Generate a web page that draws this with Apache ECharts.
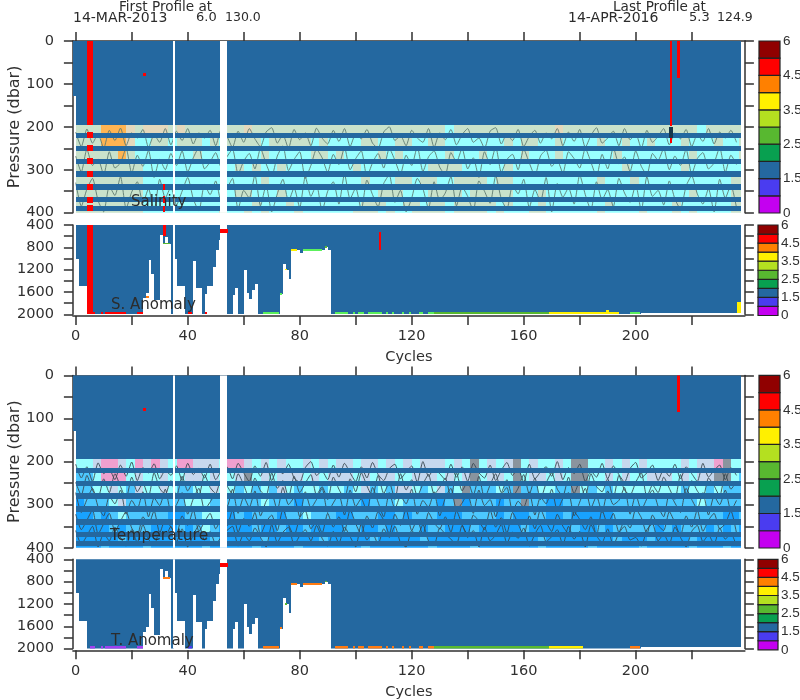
<!DOCTYPE html>
<html><head><meta charset="utf-8">
<style>html,body{margin:0;padding:0;background:#fff}#c{width:800px;height:700px}</style>
<script src="https://cdn.jsdelivr.net/npm/echarts@6/dist/echarts.min.js"></script>
</head><body><div id="c"></div>
<script>
// ---------- data ----------
const xTickValues=[0,20,40,60,80,100,120,140,160,180,200,220];
const xLabelValues=[0,40,80,120,160,200];
const legendLabels=['0','1.5','2.5','3.5','4.5','6'];
const legendColours=['#c400f0','#4a3cf0','#2468a0','#08a050','#58b830','#b4e020','#fff000','#ff8000','#ff0000','#900000'];
const rowEdges=[195,220,250,280,310,340,370,390,400];
const badLevels=[220,250,280,310,340,370,390];
const dataGaps=[[34.6,35.3],[51.7,54.05]];
const lastCycleEdge=237.5;
const blockCycles=3;

const salinityRows=[
 "gggoootgtt tgtggggggg tggggggggg gggggggggg ggggcggggg gggggggtgg gggggggggg ggggcggggg",
 "gggoootccg gcgggcgcgg ggcgggggcg ccccggccgg ccggcccccc cgcggccgcc ccgccgccgc ccgcccgccg",
 "gggggogccc ccccgccccc ccgcccccgg cgccccgcgc ccccgcccgc cccgcccgcc ccccgccccc cccgcccccg",
 "ggggggggcc cccccccccg cgccgccccc cccgcccccc ccggggcccc cgcccccccc cccccgcccc ccgccccccc",
 "ggggggggcc cccccccccc ccgccccccc ccccgcccgg cggccggggc ggcccccccc ccgcccgccc ccccccccgg",
 "ggggggggcc cccccccccg gcccgccccc ccccccgggc ccggggcggg ggcccgcccc cccccccccc cccgccccgg",
 "ggggggggcc cccccccccc cgcccgcccc ccccgggccg gcggcggggg cgcccgcccc cccgcccccc cgccccccgg",
 "ggggggggcc cccccccgcc gcgcccgccc cccgggcgcc ggggcggggc gcccggcccc ccgccccgcc cgcgccccgg"
];
const temperatureRows=[
 "cclpplcplp lcpplllcpp lclclcclcl cllcllclcl clllclcdcl cldclcclcd dcclclclcc cclcllpdcc",
 "sscpppclcc lccllclccl dclclllclc lllclcllcc lllclcldcl lcdcllclcd dcclclccll lclcllddcs",
 "sscclcslcc lcsscclccs cscslcsccs ccsclscsll csclscdsss csdssccssd cscscccccc ccsccscsss",
 "bsssclssss ssscccssss sscsssbsss ssssbssscs sssbsdbsss bssdssbbss ssssssssss sssscsssss",
 "bbsbscssss sbbsscccbs bsssbsscss sbbsssbbsb sssbbbssss bsbbssbbsb bbbbssssss sssssssbbs",
 "bbbbsbsssb bbsbscsbbb bsbbsbbsbb bbssbbsbss sbssbbbsbb bbbsbbbbbs bbsbsssssb sbsssbsbsb",
 "bbbbbsbbbb bbbbbbsbbb bbsbbbbbbs bbbbbsbbbb bsbbbbbbbb bbbbbsbbbb bbbbsbbbsb bbbsbbbbbb",
 "bbbsbbbbsb bbbbbsbbbb bsbbbbsbbb bbbbsbbbbb bbsbbbbsbb bbbbbsbbbb bsbbbbbsbb bbbsbbbsbb"
];
const contourStep=2;
const salContourA=[212,246,205,238,216,250,208,232,203,244,214,226,206,248,218,236,204,242,210,232,204,240,214,226,208,244,206,222,248,210,236,204,228,246,212,202,238,218,250,206,230,214,244,203,226,240,208,234,204,246,216,228,206,238,250,212,200,232,220,244,208,226,236,204,248,214,230,206,242,218,204,236,226,250,210,202,240,216,232,206,246,222,208,238,214,228,204,244,212,234,206,248,220,202,238,226,210,244,204,230,216,250,208,236,222,204,242,214,228,206,246,218,234,204,240,212,226,208,236];
const salContourB=[268,305,252,290,275,312,258,296,284,250,308,266,292,255,318,276,300,262,290,256,305,272,248,298,282,260,295,270,252,310,280,262,298,250,286,315,268,244,302,276,258,320,290,252,272,306,264,288,248,300,274,256,316,284,262,296,250,278,310,266,290,246,304,270,256,294,312,260,282,250,298,272,318,258,288,246,306,276,264,300,252,284,314,268,254,292,278,308,258,274,296,250,282,316,264,298,248,286,270,304,256,292,312,262,278,250,300,268,290,252,310,274,260,298,284,248,306,266,288];
const salContourC=[330,385,345,320,372,398,338,360,316,390,352,328,378,344,395,322,366,340,382,350,318,368,396,334,358,326,375,345,320,392,348,366,312,384,336,398,356,322,374,342,388,316,362,334,396,350,328,380,310,368,342,394,324,358,386,332,312,376,348,398,366,320,344,390,328,372,354,316,384,340,362,396,326,350,378,314,368,392,336,356,322,388,346,374,318,398,332,364,342,380,312,358,394,328,370,346,386,320,354,376,334,396,316,362,348,382,326,368,392,338,314,356,380,344,398,322,366,336,388];
const tempContourA=[206,238,212,246,203,228,218,242,208,234,201,244,214,226,205,240,220,232,210,244,204,230,216,238,206,242,222,212,240,204,226,246,210,234,202,244,218,228,206,238,248,214,200,232,222,242,208,236,204,226,246,212,238,202,230,244,216,206,240,224,210,248,200,234,218,228,242,206,236,212,246,204,226,238,208,244,220,202,232,216,248,206,240,224,212,234,200,242,214,228,206,246,222,236,204,240,210,230,248,216,202,238,226,208,244,218,234,206,240,212,228,246,204,236,220,208,242,214,232];
const tempContourB=[248,278,232,266,284,240,272,228,258,286,236,270,250,282,226,262,276,244,282,234,268,246,280,230,260,274,240,256,276,228,254,286,238,268,280,226,262,244,284,234,272,250,230,278,258,288,236,264,286,240,270,226,256,282,232,274,248,288,228,266,242,280,252,230,276,260,238,284,226,268,246,278,234,286,254,228,272,242,282,262,230,276,238,288,250,226,264,280,236,274,246,284,228,258,270,240,286,232,266,278,248,226,282,254,272,236,262,288,230,276,244,268,284,238,256,280,228,264,246];
const tempContourC=[272,318,288,262,305,326,280,298,266,322,290,310,270,328,284,302,264,316,300,272,322,286,262,312,294,276,290,305,264,320,282,306,268,326,292,274,314,260,300,284,328,270,308,288,262,318,296,276,324,266,304,286,316,260,294,328,272,310,280,298,264,322,290,306,270,326,284,262,312,296,274,320,266,302,288,328,278,260,316,292,306,270,324,282,298,264,314,286,272,326,294,262,308,280,318,268,300,290,260,322,276,312,286,266,304,328,274,296,318,262,288,310,272,324,280,300,266,314,290];
const tempContourD=[322,358,336,312,368,344,320,362,338,316,354,372,328,346,314,366,334,352,368,326,348,312,362,340,320,356,335,350,312,364,332,350,318,370,340,324,360,310,346,372,330,314,356,338,366,320,352,328,362,312,344,370,326,354,316,336,368,322,348,310,360,334,372,318,342,356,328,364,314,346,370,324,338,358,312,352,330,366,318,344,372,326,356,310,340,362,322,350,368,316,334,358,328,372,312,346,320,364,338,354,310,330,368,324,348,360,316,342,372,326,352,312,362,336,320,356,344,314,366];
const tempContourE=[360,392,372,350,398,366,384,352,376,396,358,388,346,380,394,362,374,350,386,356,398,370,348,382,362,392,375,360,350,396,368,384,354,376,398,346,388,364,352,394,372,358,384,348,378,396,362,390,352,374,398,344,382,366,392,356,376,350,388,398,360,372,346,384,394,354,368,380,392,348,376,360,398,352,384,370,346,390,364,378,354,396,368,348,386,374,358,394,350,380,362,398,346,372,388,356,394,366,350,382,376,396,358,344,384,368,392,352,376,398,362,348,386,370,392,354,380,366,396];
// deepest pressure per cycle as runs of [pressure, number of cycles]
const profileBottomRuns=[[1010,1],[1500,3],[2000,20],[1700,1],[1620,1],[1030,1],[1270,1],[1750,2],[580,1],[730,1],[610,1],[740,1],[2000,1],[1010,1],[1500,3],[2000,3],[1040,1],[1520,2],[2000,1],[1640,1],[1500,2],[1150,1],[850,1],[670,1],[0,2],[2000,2],[1650,1],[1520,1],[2000,2],[1200,1],[1620,1],[1730,1],[1560,1],[1450,1],[2000,8],[1640,1],[1100,1],[1200,1],[1370,1],[850,3],[895,1],[850,8],[800,1],[850,1],[2000,111],[1975,36]];
// [firstCycle,lastCycle,shallow,deep]
const salTopRed=[[4.1,6,0,195],[4.1,6,213,227],[4.1,6,243,257],[4.1,6,273,287],[4.1,6,303,317],[4.1,6,333,347],[4.1,6,363,377],[4.1,6,383,397],[24.2,25,75,82],[31.3,32,332,348],[31.3,32,362,378],[31.3,32,384,398],[212.1,212.9,0,197],[212.1,212.9,226,238],[214.9,215.8,0,86]];
const salTopDark=[[212,213.2,200,226]];
const tempTopRed=[[24.2,25,75,82],[214.9,215.8,0,86]];
const salAnomalyRed=[[4.2,6.2,400,2000],[31.3,32.1,400,600],[108.2,109,525,850],[51.4,54.4,475,540]];
const tempAnomalyRed=[[51.4,54.4,475,540]];
// [firstCycle,lastCycle,shallow,deep,colourKey]
const salAnomalyFlags=[[5,7,1960,2000,'R'],[9,9.8,1960,2000,'R'],[10.5,18,1960,2000,'R'],[22,24,1960,2000,'R'],[40,41.5,1960,2000,'R'],[46,46.8,1960,2000,'R'],[25,26,1680,1710,'O'],[31,33.5,715,745,'G'],[67,72.7,1960,2000,'N'],[72.8,73.6,1610,1650,'N'],[74.8,75.4,1185,1215,'Y'],[77,79,830,860,'Y'],[81,88,830,860,'N'],[89,89.6,780,810,'G'],[92.6,97.4,1960,2000,'N'],[99,99.6,1960,2000,'N'],[101,103,1960,2000,'N'],[104.5,109.3,1960,2000,'N'],[110.9,111.5,1960,2000,'N'],[113,113.6,1960,2000,'N'],[116.6,117.2,1960,2000,'N'],[119,119.6,1960,2000,'N'],[122.6,124,1960,2000,'N'],[126,128,1960,2000,'N'],[128,169,1960,2000,'G'],[169,194,1960,2000,'Y'],[189.5,190.5,1920,1960,'Y'],[198,201.5,1960,2000,'N'],[236,237.5,1780,1975,'Y']];
const tempAnomalyFlags=[[5,7,1960,2000,'V'],[9,9.8,1960,2000,'V'],[10.5,18,1960,2000,'V'],[22,24,1960,2000,'V'],[40,41.5,1960,2000,'I'],[31,33.5,715,745,'O'],[72.8,73.6,1610,1650,'O'],[74.8,75.4,1185,1215,'G'],[77,79,830,860,'O'],[81,88,830,860,'O'],[89,89.6,780,810,'G'],[67,72.7,1960,2000,'O'],[92.6,97.4,1960,2000,'O'],[99,99.6,1960,2000,'O'],[101,103,1960,2000,'O'],[104.5,109.3,1960,2000,'O'],[110.9,111.5,1960,2000,'O'],[113,113.6,1960,2000,'O'],[116.6,117.2,1960,2000,'O'],[119,119.6,1960,2000,'O'],[122.6,124,1960,2000,'O'],[126,128,1960,2000,'O'],[128,169,1960,2000,'G'],[169,181,1960,2000,'Y'],[198,201.5,1960,2000,'O']];
const headerTexts=['First Profile at','14-MAR-2013','6.0','130.0','Last Profile at','14-APR-2016','5.3','124.9'];
const panelNames=['Salinity','S. Anomaly','Temperature','T. Anomaly'];

// ---------- colours ----------
const STEEL='#2468a0', INK='#303030';
const keys={
 g:'#c9e2cb',c:'#99ffff',o:'#ffb452',t:'#e4d8bc',
 p:'#f0a0cf',l:'#c6d8ee',s:'#4cc8ff',b:'#18a2ff',d:'#8a949e',
 B:STEEL,R:'#ff0000',K:'#18384c',W:'#ffffff',
 N:'#5cf05c',G:'#58b830',Y:'#fff000',O:'#ff7a10',V:'#a040f0',I:'#4a3cf0'
};
const keyList=Object.keys(keys);
const colourOf=k=>keyList.indexOf(k);

// ---------- rows ----------
function rowCells(rows){
  const out=[];
  rows.forEach((row,r)=>{
    const s=row.replace(/ /g,'');
    let i=0;
    while(i<s.length){
      let j=i; while(j<s.length&&s[j]===s[i]) j++;
      out.push([i*blockCycles,Math.min(j*blockCycles,lastCycleEdge),rowEdges[r],rowEdges[r+1],colourOf(s[i])]);
      i=j;
    }
  });
  return out;
}
function topBlocks(){ return [[-1,0.1,0,128,colourOf('B')],[0,lastCycleEdge,0,rowEdges[0],colourOf('B')]]; }
function bandRects(){ return badLevels.map(l=>[0,lastCycleEdge,l-6,l+6,colourOf('B')]); }
function gapRects(lo,hi){ return dataGaps.map(g=>[g[0],g[1],lo,hi,colourOf('W')]); }
function paint(list,k){ return list.map(a=>[a[0],a[1],a[2],a[3],colourOf(k)]); }
function flags(list){ return list.map(a=>[a[0],a[1],a[2],a[3],colourOf(a[4])]); }
function profileRects(){
  const out=[]; let c=0;
  profileBottomRuns.forEach(([p,n])=>{
    if(p>0) out.push([c,Math.min(c+n,lastCycleEdge),400,p,colourOf('B')]);
    c+=n;
  });
  return out;
}
function contourLine(values){ return values.map((v,i)=>[i*contourStep,v]); }

// ---------- drawing ----------
const renderRect=(params,api)=>{
  const a=api.coord([api.value(0),api.value(2)]), b=api.coord([api.value(1),api.value(3)]);
  const x0=Math.round(a[0]), x1=Math.max(Math.round(b[0]),x0+1);
  const y0=Math.round(a[1]), y1=Math.max(Math.round(b[1]),y0+1);
  return {type:'rect',shape:{x:x0,y:y0,width:x1-x0,height:y1-y0},
    style:{fill:keys[keyList[api.value(4)]]}};
};
const rectSeries=(idx,data,z)=>({type:'custom',xAxisIndex:idx,yAxisIndex:idx,renderItem:renderRect,data,z,clip:true,silent:true,
  dimensions:['a','b','c','d','k'],encode:{x:[0,1],y:[2,3]},animation:false});
const lineSeries=(idx,values,col)=>({type:'line',xAxisIndex:idx,yAxisIndex:idx,data:contourLine(values),showSymbol:false,symbol:'none',z:2,smooth:0.2,
  lineStyle:{color:col,width:0.9},silent:true,animation:false,clip:true});

const axisStyle={lineStyle:{color:INK,width:1.5}};
const grids=[
 {left:72.9,width:672,top:41,height:171.7},
 {left:72.9,width:672,top:225,height:89.3},
 {left:72.9,width:672,top:375.4,height:172.4},
 {left:72.9,width:672,top:559.3,height:89.3}
];
const colourGrids=[
 {left:759,width:21,top:41,height:172},
 {left:758,width:20,top:225,height:90.5},
 {left:759,width:21,top:375.4,height:172.6},
 {left:758,width:20,top:559.3,height:90.5}
];
const tickFont={color:INK,fontFamily:'DejaVu Sans',fontSize:14.5};
const xAxes=[];
grids.forEach((g,i)=>{
  const isTop=i%2===0;
  xAxes.push({type:'value',gridIndex:i,min:-1,max:239,position:isTop?'top':'bottom',offset:isTop?0:1.7,
    splitLine:{show:false},axisLine:{show:true,onZero:false,...axisStyle},
    axisTick:{show:true,length:9,customValues:xTickValues,...axisStyle},
    axisLabel:isTop?{show:false}:{show:true,customValues:xLabelValues,margin:13,...tickFont},
    name:isTop?'':'Cycles',nameLocation:'middle',nameGap:34,nameTextStyle:{color:INK,fontFamily:'DejaVu Sans',fontSize:14.5}});
});
const yAxes=[];
grids.forEach((g,i)=>{
  const isTop=i%2===0;
  const base={type:'value',gridIndex:i,inverse:true,min:isTop?0:400,max:isTop?400:2000,interval:isTop?50:200,splitLine:{show:false},
    axisLine:{show:true,onZero:false,...axisStyle},axisTick:{show:true,length:9,...axisStyle}};
  yAxes.push({...base,position:'left',
    axisLabel:{...tickFont,margin:19,formatter:v=>v%(isTop?100:400)===0?String(v):''},
    name:isTop?'Pressure (dbar)':'',nameLocation:'middle',nameGap:50,nameRotate:90,nameMoveOverlap:false,
    nameTextStyle:{color:INK,fontFamily:'DejaVu Sans',fontSize:16}});
});
grids.forEach((g,i)=>{
  const isTop=i%2===0;
  yAxes.push({type:'value',gridIndex:i,inverse:true,min:isTop?0:400,max:isTop?400:2000,interval:isTop?50:200,position:'right',splitLine:{show:false},
    axisLine:{show:true,onZero:false,...axisStyle},axisTick:{show:true,length:9,...axisStyle},axisLabel:{show:false}});
});
colourGrids.forEach((g,i)=>{
  xAxes.push({type:'value',gridIndex:4+i,min:0,max:1,show:false});
  yAxes.push({type:'value',gridIndex:4+i,min:0,max:10,interval:2,position:'right',splitLine:{show:false},
    axisLine:{show:false},axisTick:{show:false},
    axisLabel:{color:INK,fontFamily:'Liberation Sans',fontSize:13.5,margin:3,formatter:v=>legendLabels[v/2]}});
});
// y axis indices: 0-3 left, 4-7 right, 8-11 colour bars
const series=[];
// salinity
series.push(rectSeries(0,rowCells(salinityRows).concat(topBlocks()),1));
[salContourA,salContourB,salContourC].forEach(v=>series.push(lineSeries(0,v,'#5d7a70')));
series.push(rectSeries(0,bandRects().concat(gapRects(0,400),paint(salTopRed,'R'),paint(salTopDark,'K')),3));
// S anomaly
series.push(rectSeries(1,profileRects().concat(flags(salAnomalyFlags),gapRects(400,2000),paint(salAnomalyRed,'R')),3));
// temperature
series.push(rectSeries(2,rowCells(temperatureRows).concat(topBlocks()),1));
[tempContourA,tempContourB,tempContourC,tempContourD,tempContourE].forEach(v=>series.push(lineSeries(2,v,'#39474f')));
series.push(rectSeries(2,bandRects().concat(gapRects(0,400),paint(tempTopRed,'R')),3));
// T anomaly
series.push(rectSeries(3,profileRects().concat(flags(tempAnomalyFlags),gapRects(400,2000),paint(tempAnomalyRed,'R')),3));
// colour bars
colourGrids.forEach((g,i)=>{
  series.push({type:'custom',xAxisIndex:4+i,yAxisIndex:8+i,silent:true,animation:false,
    data:legendColours.map((c,k)=>[0,1,k,k+1]),encode:{x:[0,1],y:[2,3]},
    renderItem:(p,api)=>{
      const a=api.coord([0,api.value(3)]), b=api.coord([1,api.value(2)]);
      return {type:'rect',shape:{x:a[0],y:a[1],width:b[0]-a[0],height:b[1]-a[1]},
        style:{fill:legendColours[p.dataIndex],stroke:'#222',lineWidth:1.2}};
    }});
});
// texts
const txt=(s,x,y,size,align)=>({type:'text',x,y,z:20,silent:true,style:{text:s,fontFamily:'DejaVu Sans',fontSize:size,fill:'#2c2c2c',textAlign:align||'left',textVerticalAlign:'middle'}});
const graphics=[
 txt(headerTexts[0],119,7,13.6),txt(headerTexts[1],73,18,14),txt(headerTexts[2],196,18,13),txt(headerTexts[3],225,18,12.5),
 txt(headerTexts[4],613,7,13.6),txt(headerTexts[5],568,18,14),txt(headerTexts[6],689,18,13),txt(headerTexts[7],717,18,12.5),
 txt(panelNames[0],131,202,15),txt(panelNames[1],111,305,15),txt(panelNames[2],110,536,15.5),txt(panelNames[3],111,641,15)
];
const chart=echarts.init(document.getElementById('c'),null,{renderer:'canvas'});
chart.setOption({animation:false,backgroundColor:'#fff',
  grid:grids.concat(colourGrids).map(g=>({...g,containLabel:false,show:false,outerBoundsMode:'none'})),
  xAxis:xAxes,yAxis:yAxes,series,graphic:graphics,tooltip:{show:false},legend:{show:false}});
</script></body></html>
